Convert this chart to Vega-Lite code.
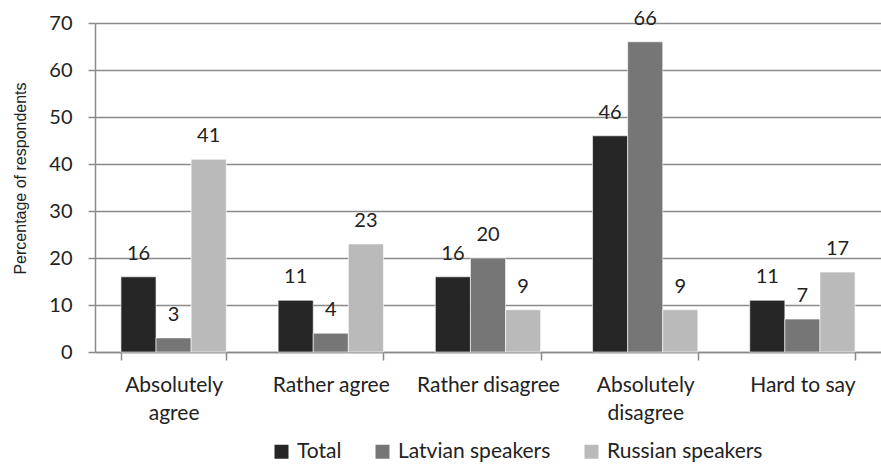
{
  "$schema": "https://vega.github.io/schema/vega-lite/v6.json",
  "autosize": {"type": "none"},
  "width": 786,
  "height": 329,
  "padding": {"left": 95, "top": 23, "right": 0, "bottom": 112},
  "background": "#ffffff",
  "config": {
    "view": {"stroke": null},
    "font": "Lato"
  },
  "data": {
    "values": [
      {"answer": "Absolutely agree", "group": "Total", "value": 16},
      {"answer": "Absolutely agree", "group": "Latvian speakers", "value": 3},
      {"answer": "Absolutely agree", "group": "Russian speakers", "value": 41},
      {"answer": "Rather agree", "group": "Total", "value": 11},
      {"answer": "Rather agree", "group": "Latvian speakers", "value": 4},
      {"answer": "Rather agree", "group": "Russian speakers", "value": 23},
      {"answer": "Rather disagree", "group": "Total", "value": 16},
      {"answer": "Rather disagree", "group": "Latvian speakers", "value": 20},
      {"answer": "Rather disagree", "group": "Russian speakers", "value": 9},
      {"answer": "Absolutely disagree", "group": "Total", "value": 46},
      {"answer": "Absolutely disagree", "group": "Latvian speakers", "value": 66},
      {"answer": "Absolutely disagree", "group": "Russian speakers", "value": 9},
      {"answer": "Hard to say", "group": "Total", "value": 11},
      {"answer": "Hard to say", "group": "Latvian speakers", "value": 7},
      {"answer": "Hard to say", "group": "Russian speakers", "value": 17}
    ]
  },
  "encoding": {
    "x": {
      "field": "answer",
      "type": "nominal",
      "sort": ["Absolutely agree", "Rather agree", "Rather disagree", "Absolutely disagree", "Hard to say"],
      "scale": {"paddingInner": 0.33, "paddingOuter": 0.165},
      "axis": {
        "title": null,
        "labelAngle": 0,
        "tickBand": "extent",
        "grid": false,
        "domainColor": "#8a8a8a",
        "domainWidth": 1.5,
        "tickColor": "#8a8a8a",
        "tickWidth": 1.5,
        "tickSize": 8,
        "labelFont": "Lato",
        "labelFontSize": 21,
        "labelColor": "#222222",
        "labelPadding": 14,
        "labelLineHeight": 28,
        "labelExpr": "datum.label == 'Absolutely agree' ? ['Absolutely', 'agree'] : datum.label == 'Absolutely disagree' ? ['Absolutely', 'disagree'] : datum.label"
      }
    },
    "xOffset": {
      "field": "group",
      "type": "nominal",
      "sort": ["Total", "Latvian speakers", "Russian speakers"],
      "scale": {"paddingInner": 0, "paddingOuter": 0}
    },
    "y": {
      "field": "value",
      "type": "quantitative",
      "scale": {"domain": [0, 70], "nice": false},
      "axis": {
        "values": [0, 10, 20, 30, 40, 50, 60, 70],
        "title": "Percentage of respondents",
        "titleFont": "Liberation Sans",
        "titleFontSize": 16,
        "titleFontWeight": "normal",
        "titleColor": "#222222",
        "titlePadding": 20,
        "titleY": 155,
        "grid": true,
        "gridColor": "#8a8a8a",
        "gridWidth": 1.5,
        "domainColor": "#8a8a8a",
        "domainWidth": 1.5,
        "tickColor": "#8a8a8a",
        "tickWidth": 1.5,
        "tickSize": 7,
        "labelFont": "Lato",
        "labelFontSize": 20,
        "labelColor": "#222222",
        "labelPadding": 16
      }
    }
  },
  "layer": [
    {
      "mark": {"type": "bar", "stroke": "#ffffff", "strokeWidth": 0.6},
      "encoding": {
        "color": {
          "field": "group",
          "type": "nominal",
          "sort": ["Total", "Latvian speakers", "Russian speakers"],
          "scale": {
            "domain": ["Total", "Latvian speakers", "Russian speakers"],
            "range": ["#262626", "#767676", "#bababa"]
          },
          "legend": {
            "title": null,
            "orient": "none",
            "legendX": 176,
            "legendY": 418,
            "direction": "horizontal",
            "symbolType": "square",
            "symbolSize": 196,
            "symbolStrokeWidth": 0,
            "labelFont": "Lato",
            "labelFontSize": 21,
            "labelColor": "#222222",
            "labelOffset": 5,
            "columnPadding": 30,
            "padding": 0
          }
        }
      }
    },
    {
      "mark": {
        "type": "text",
        "baseline": "alphabetic",
        "dy": -17,
        "font": "Lato",
        "fontSize": 20,
        "color": "#222222"
      },
      "encoding": {
        "text": {"field": "value", "type": "quantitative"}
      }
    }
  ]
}
